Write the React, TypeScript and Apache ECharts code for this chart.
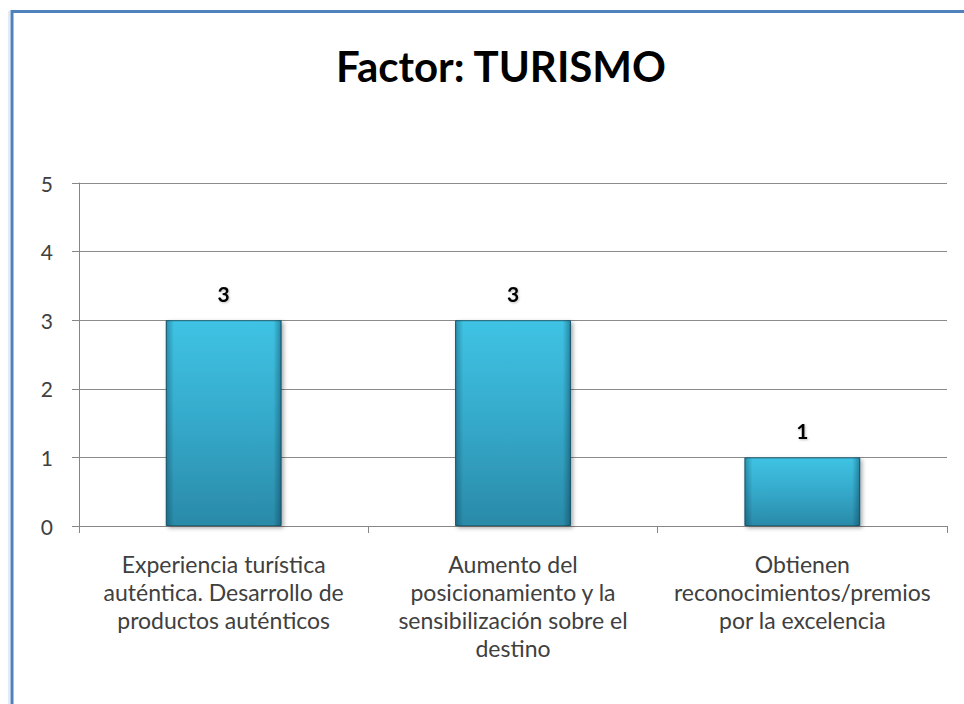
import React, { useEffect, useRef } from "react";
import * as echarts from "echarts";

const titleText = "Factor: TURISMO";
const categories = [
  "Experiencia turística\nauténtica. Desarrollo de\nproductos auténticos",
  "Aumento del\nposicionamiento y la\nsensibilización sobre el\ndestino",
  "Obtienen\nreconocimientos/premios\npor la excelencia",
];
const values = [3, 3, 1];
const yTicks = [0, 1, 2, 3, 4, 5];

const FONT = "Lato, 'Open Sans', sans-serif";

export default function App() {
  const ref = useRef<HTMLDivElement>(null);
  useEffect(() => {
    if (!ref.current) return;
    const chart = echarts.init(ref.current, undefined, { renderer: "svg" });
    chart.setOption({
      animation: false,
      backgroundColor: "#ffffff",
      title: {
        text: titleText,
        left: 496,
        top: 40,
        textAlign: "center",
        textStyle: {
          fontFamily: FONT,
          fontWeight: "bold",
          fontSize: 42,
          color: "#000000",
        },
      },
      graphic: [
        {
          type: "line",
          shape: { x1: 9, y1: 11, x2: 9, y2: 720 },
          style: { stroke: "#c9d6ea", lineWidth: 1 },
          silent: true,
        },
        {
          type: "line",
          shape: { x1: 12, y1: 11.5, x2: 1000, y2: 11.5 },
          style: { stroke: "#4f81bd", lineWidth: 3 },
          silent: true,
        },
        {
          type: "line",
          shape: { x1: 12, y1: 10, x2: 12, y2: 720 },
          style: { stroke: "#4f81bd", lineWidth: 3 },
          silent: true,
        },
      ],
      grid: { left: 79, right: 17, top: 183, bottom: 178 },
      xAxis: {
        type: "category",
        data: categories,
        axisLine: { show: true, lineStyle: { color: "#868686", width: 1 } },
        axisTick: { show: true, length: 7, alignWithLabel: false, lineStyle: { color: "#868686" } },
        axisLabel: {
          interval: 0,
          margin: 24,
          fontFamily: FONT,
          fontSize: 23,
          lineHeight: 28,
          color: "#404040",
          align: "center",
        },
        splitLine: { show: false },
      },
      yAxis: {
        type: "value",
        min: yTicks[0],
        max: yTicks[yTicks.length - 1],
        interval: 1,
        axisLine: { show: true, lineStyle: { color: "#868686", width: 1 } },
        axisTick: { show: true, length: 7, lineStyle: { color: "#868686" } },
        axisLabel: {
          margin: 26,
          fontFamily: FONT,
          fontSize: 21,
          color: "#404040",
        },
        splitLine: { show: true, lineStyle: { color: "#8c8c8c", width: 1 } },
      },
      series: [
        {
          type: "bar",
          data: values,
          barWidth: "40%",
          itemStyle: {
            color: new echarts.graphic.LinearGradient(0, 0, 0, 1, [
              { offset: 0, color: "#3fc3e4" },
              { offset: 0.5, color: "#35a9ca" },
              { offset: 1, color: "#2a8aa8" },
            ]),
            borderColor: "#1f6a80",
            borderWidth: 1,
            shadowColor: "rgba(0,0,0,0.35)",
            shadowBlur: 4,
            shadowOffsetX: 2,
            shadowOffsetY: 2,
          },
          label: {
            show: true,
            position: "top",
            distance: 16,
            fontFamily: FONT,
            fontWeight: "bold",
            fontSize: 21,
            color: "#000000",
            textShadowColor: "rgba(0,0,0,0.25)",
            textShadowBlur: 2,
            textShadowOffsetX: 1,
            textShadowOffsetY: 1,
          },
        },
        {
          type: "bar",
          data: values,
          barWidth: "40%",
          barGap: "-100%",
          silent: true,
          itemStyle: {
            color: new echarts.graphic.LinearGradient(0, 0, 1, 0, [
              { offset: 0, color: "rgba(0,40,60,0.35)" },
              { offset: 0.07, color: "rgba(0,40,60,0)" },
              { offset: 0.93, color: "rgba(0,40,60,0)" },
              { offset: 1, color: "rgba(0,40,60,0.4)" },
            ]),
          },
          label: { show: false },
        },
      ],
    });
    return () => chart.dispose();
  }, []);
  return (
    <div
      ref={ref}
      style={{ position: "fixed", left: 0, top: 0, width: 964, height: 704 }}
    />
  );
}
